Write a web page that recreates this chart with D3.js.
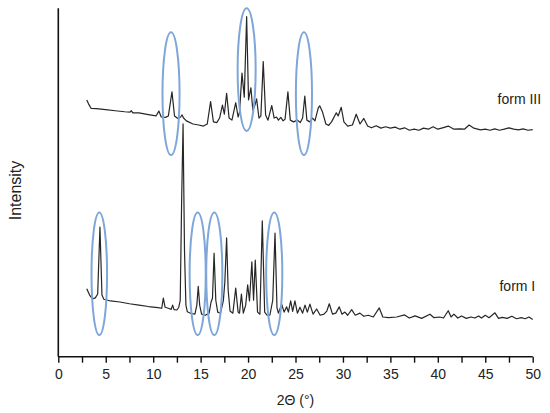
<!DOCTYPE html>
<html>
<head>
<meta charset="utf-8">
<script src="https://cdn.jsdelivr.net/npm/d3@7"></script>
<style>
  html, body { margin: 0; padding: 0; background: #fff; }
  svg { display: block; }
  text { font-family: "Liberation Sans", Arial, sans-serif; fill: #222; }
</style>
</head>
<body>
<svg id="chart" width="550" height="413"></svg>
<script>
// ---------- data (2θ in degrees, intensity in arbitrary units) ----------
const xTicks = [0, 5, 10, 15, 20, 25, 30, 35, 40, 45, 50];
const xMinorTicks = [2.5, 7.5, 12.5, 17.5, 22.5, 27.5, 32.5, 37.5, 42.5, 47.5];
const seriesNames = ["form III", "form I"];

// form I trace (lower pattern): [2θ, intensity]
const formI = [
  [3.0,195],[3.3,177],[3.6,166],[3.9,169],[4.15,180],[4.39,372],[4.6,177],[4.8,165],
  [5.5,160],[6.5,157],[7.5,152],[8.5,148],[9.5,144],[10.5,141],[10.9,139],[11.07,168],
  [11.25,142],[11.6,139],[11.9,136],[12.05,148],[12.2,135],[12.5,134],[12.7,142],[12.85,162],
  [13.0,450],[13.15,668],[13.3,306],[13.45,148],[13.6,129],[14.0,124],[14.4,122],[14.6,148],
  [14.75,202],[14.9,148],[15.1,122],[15.5,119],[15.9,125],[16.1,157],[16.25,168],[16.42,297],
  [16.6,162],[16.8,128],[17.1,125],[17.4,162],[17.55,214],[17.74,341],[17.9,192],[18.1,131],
  [18.4,125],[18.7,197],[18.95,128],[19.1,125],[19.3,180],[19.5,125],[19.75,148],[19.96,206],
  [20.15,160],[20.4,272],[20.58,162],[20.76,277],[21.0,128],[21.25,122],[21.5,390],[21.75,128],
  [22.0,119],[22.3,119],[22.6,162],[22.84,355],[23.05,140],[23.2,125],[23.54,151],[23.8,128],
  [24.07,143],[24.25,128],[24.49,160],[24.7,130],[24.94,160],[25.2,125],[25.47,142],[25.75,125],
  [26.0,148],[26.25,128],[26.52,151],[26.85,122],[27.23,137],[27.6,119],[28.0,122],[28.3,131],
  [28.56,152],[28.9,122],[29.25,125],[29.61,143],[29.9,122],[30.21,128],[30.5,119],[30.92,135],
  [31.3,119],[31.79,125],[32.2,116],[32.67,119],[33.2,114],[33.83,140],[34.2,114],[34.8,112],
  [35.66,114],[36.5,120],[37.0,111],[37.6,117],[38.3,110],[39.17,122],[39.6,112],[40.2,114],
  [40.6,111],[41.1,132],[41.4,114],[41.7,122],[42.1,111],[42.5,117],[43.0,110],[43.5,114],
  [43.9,111],[44.3,117],[44.6,111],[45.0,119],[45.4,112],[46.02,126],[46.4,110],[46.8,113],
  [47.3,110],[47.8,116],[48.3,109],[48.8,112],[49.2,109],[49.6,114],[50.0,107]
];

// form III trace (upper pattern): [2θ, intensity]
const formIII = [
  [3.0,737],[3.2,725],[3.45,713],[4.0,712],[5.0,709],[6.0,706],[7.0,703],[7.55,702],
  [7.7,706],[7.85,700],[8.5,700],[9.5,695],[10.3,691],[10.6,705],[10.85,688],[11.3,687],
  [11.6,691],[11.98,760],[12.25,691],[12.6,684],[12.9,688],[13.05,694],[13.2,685],[13.5,677],
  [14.2,668],[14.8,665],[15.3,662],[15.7,668],[16.05,732],[16.35,674],[16.7,672],[17.0,685],
  [17.3,722],[17.5,696],[17.74,756],[18.0,685],[18.3,679],[18.7,729],[18.95,688],[19.1,702],
  [19.36,814],[19.6,745],[19.85,976],[20.05,737],[20.3,772],[20.5,708],[20.7,720],[20.9,740],
  [21.15,685],[21.35,691],[21.6,847],[21.85,694],[22.1,679],[22.5,721],[22.75,685],[23.0,688],
  [23.2,679],[23.45,687],[23.7,677],[23.9,682],[24.2,760],[24.45,679],[24.8,674],[25.2,679],
  [25.5,672],[25.75,685],[25.98,748],[26.2,679],[26.5,674],[26.8,685],[27.05,677],[27.4,714],
  [27.55,720],[27.85,702],[28.2,668],[28.5,664],[28.8,674],[29.3,700],[29.5,691],[29.82,716],
  [30.1,674],[30.5,662],[31.0,665],[31.4,696],[31.8,668],[32.2,684],[32.6,662],[33.0,657],
  [33.5,663],[34.0,656],[34.5,660],[35.0,656],[35.5,659],[36.0,653],[36.5,657],[37.0,650],
  [37.5,653],[38.0,650],[38.5,656],[39.0,653],[39.5,660],[40.0,653],[40.5,657],[41.1,662],
  [41.7,653],[42.3,654],[42.8,653],[43.3,665],[43.8,656],[44.5,651],[45.0,653],[45.5,650],
  [46.0,654],[46.5,650],[47.0,653],[47.5,657],[48.0,653],[48.5,651],[49.0,654],[49.5,650],
  [50.0,652]
];

// highlighted reflections: centre 2θ, centre intensity, half-width (2θ), half-height (intensity)
const ellipseTheta = [11.88, 19.85, 25.89, 4.32, 14.69, 16.44, 22.76];
const ellipseCenter = [755, 824, 755, 238, 238, 238, 238];
const ellipseHalfWidth = [0.9, 0.95, 0.85, 0.82, 0.85, 0.85, 0.85];
const ellipseHalfHeight = [176, 176, 176, 176, 176, 176, 176];

// series label anchors [2θ, intensity]
const labelAnchors = [[46.3, 726], [46.5, 188]];

// ---------- drawing ----------
const svg = d3.select("#chart");
const x = d3.scaleLinear().domain([0, 50]).range([58.3, 532.7]);
const y = d3.scaleLinear().domain([0, 1000]).range([356.7, 8.3]);

// axes
const xAxis = d3.axisBottom(x)
  .tickValues(xTicks.concat(xMinorTicks))
  .tickSize(6)
  .tickFormat(d => xTicks.includes(d) ? d3.format("d")(d) : "");
const gx = svg.append("g").attr("transform", `translate(0,${y(0)})`).call(xAxis);
gx.select(".domain").attr("stroke", "#111").attr("stroke-width", 1.6)
  .attr("d", `M${x(0)},0H${x(50)}`);
gx.selectAll(".tick line").attr("stroke", "#111").attr("stroke-width", 1.4);
gx.selectAll(".tick text").attr("font-size", 14).attr("dy", "0.95em")
  .attr("font-family", "Liberation Sans, Arial, sans-serif").attr("fill", "#222");

svg.append("line")
  .attr("x1", x(0)).attr("x2", x(0)).attr("y1", y(1000)).attr("y2", y(0))
  .attr("stroke", "#111").attr("stroke-width", 1.6);

// traces
const line = d3.line().x(d => x(d[0])).y(d => y(d[1]));
[formIII, formI].forEach(s => {
  svg.append("path").datum(s)
    .attr("d", line).attr("fill", "none")
    .attr("stroke", "#262626").attr("stroke-width", 1.2).attr("stroke-linejoin", "round");
});

// ellipses
ellipseTheta.forEach((t, i) => {
  svg.append("ellipse")
    .attr("cx", x(t)).attr("cy", y(ellipseCenter[i]))
    .attr("rx", x(t + ellipseHalfWidth[i]) - x(t))
    .attr("ry", y(0) - y(ellipseHalfHeight[i]))
    .attr("fill", "none").attr("stroke", "#7fa6d9").attr("stroke-width", 2);
});

// series labels
seriesNames.forEach((n, i) => {
  svg.append("text").attr("x", x(labelAnchors[i][0])).attr("y", y(labelAnchors[i][1]))
    .attr("font-size", 14).text(n);
});

// axis titles
svg.append("text").attr("x", (x(0) + x(50)) / 2).attr("y", 405)
  .attr("text-anchor", "middle").attr("font-size", 14).text("2Θ (°)");
svg.append("text").attr("transform", `translate(21,${(y(0) + y(1000)) / 2 + 8}) rotate(-90)`)
  .attr("text-anchor", "middle").attr("font-size", 16).text("Intensity");
</script>
</body>
</html>
